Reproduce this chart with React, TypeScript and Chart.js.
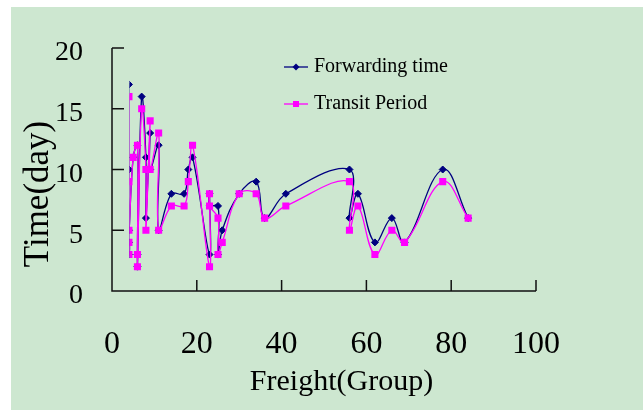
import { useEffect, useRef } from "react";
import { Chart, registerables } from "chart.js";

Chart.register(...registerables);

// Freight group (x) for each observation, in drawing order
const freightGroups = [3, 3, 3, 4, 4, 4, 4, 4, 5, 6, 6, 6, 7, 8, 8, 9, 9, 11, 11, 14, 17, 18, 19, 23, 23, 23, 25, 25, 26, 30, 34, 36, 41, 56, 56, 58, 62, 66, 69, 78, 84];
// Forwarding time (days)
const forwardingTime = [9, 7, 4, 4, 3, 17, 10, 5, 11, 12, 3, 2, 16, 11, 6, 13, 10, 12, 5, 8, 8, 10, 11, 3, 8, 7, 7, 3, 5, 8, 9, 6, 8, 10, 6, 8, 4, 6, 4, 10, 6];
// Transit period (days)
const transitPeriod = [8, 6, 4, 4, 3, 16, 9, 5, 11, 12, 3, 2, 15, 10, 5, 14, 10, 13, 5, 7, 7, 9, 12, 2, 8, 7, 6, 3, 4, 8, 8, 6, 7, 9, 5, 7, 3, 5, 4, 9, 6];

const seriesNames = ["Forwarding time", "Transit Period"];
const xTickValues = [0, 20, 40, 60, 80, 100];
const yTickValues = [0, 5, 10, 15, 20];
const xAxisTitle = "Freight(Group)";
const yAxisTitle = "Time(day)";

const FONT = "'Liberation Serif', 'Times New Roman', serif";
const BG = "#cde7d0";
const NAVY = "#000080";
const MAGENTA = "#ff00ff";

function makeIcon(color: string, style: string) {
  const c = document.createElement("canvas");
  c.width = 24;
  c.height = 12;
  const ctx = c.getContext("2d")!;
  ctx.strokeStyle = color;
  ctx.lineWidth = 1.3;
  ctx.beginPath();
  ctx.moveTo(0, 6);
  ctx.lineTo(24, 6);
  ctx.stroke();
  ctx.fillStyle = color;
  if (style === "diamond") {
    ctx.beginPath();
    ctx.moveTo(12, 2.5);
    ctx.lineTo(15.5, 6);
    ctx.lineTo(12, 9.5);
    ctx.lineTo(8.5, 6);
    ctx.closePath();
    ctx.fill();
  } else {
    ctx.fillRect(9, 3, 6, 6);
  }
  return c;
}

export default function App() {
  const ref = useRef<HTMLCanvasElement | null>(null);

  useEffect(() => {
    if (!ref.current) return;
    const icons = [makeIcon(NAVY, "diamond"), makeIcon(MAGENTA, "square")];

    const fwdPoints = freightGroups.map((x, i) => ({ x, y: forwardingTime[i] }));
    const trPoints = freightGroups.map((x, i) => ({ x, y: transitPeriod[i] }));

    const refPlugin = {
      id: "refPlugin",
      beforeDraw(chart: any) {
        const { ctx, width, height } = chart;
        ctx.save();
        ctx.fillStyle = BG;
        ctx.fillRect(0, 0, width, height);
        ctx.restore();
      },
      afterLayout(chart: any) {
        const ca = chart.chartArea;
        const ys = chart.scales.y;
        const xs = chart.scales.x;
        const dy = 187 - (ca.top + ca.bottom) / 2;
        ys.top += dy;
        ys.bottom += dy;
        const dx = 330.5 - (ca.left + ca.right) / 2;
        xs.left += dx;
        xs.right += dx;
        const lg = chart.legend;
        if (lg) {
          const w = lg.width;
          const h = lg.height;
          lg.left = ca.left + 159;
          lg.top = ca.top - 8;
          lg.right = lg.left + w;
          lg.bottom = lg.top + h;
        }
      },
      beforeDatasetsDraw(chart: any) {
        const { ctx, chartArea: ca } = chart;
        const xs = chart.scales.x;
        const ys = chart.scales.y;
        ctx.save();
        ctx.strokeStyle = "#111";
        ctx.lineWidth = 1.5;
        ctx.beginPath();
        ctx.moveTo(ca.left, ca.top);
        ctx.lineTo(ca.left, ca.bottom);
        ctx.lineTo(ca.right, ca.bottom);
        ctx.stroke();
        ctx.beginPath();
        yTickValues.forEach((v) => {
          if (v === 0) return;
          const p = ys.getPixelForValue(v);
          ctx.moveTo(ca.left, p);
          ctx.lineTo(ca.left + 12, p);
        });
        xTickValues.forEach((v) => {
          if (v === 0) return;
          const p = xs.getPixelForValue(v);
          ctx.moveTo(p, ca.bottom);
          ctx.lineTo(p, ca.bottom - 11);
        });
        ctx.stroke();
        ctx.restore();
      },
    };

    const chart = new Chart(ref.current, {
      type: "scatter",
      data: {
        datasets: [
          {
            label: seriesNames[0],
            data: fwdPoints,
            showLine: true,
            borderColor: NAVY,
            backgroundColor: NAVY,
            borderWidth: 1.3,
            pointStyle: "rectRot",
            pointRadius: 3.5,
            pointBorderWidth: 1,
            pointBorderColor: NAVY,
            pointBackgroundColor: NAVY,
            tension: 0.4,
            order: 2,
          },
          {
            label: seriesNames[1],
            data: trPoints,
            showLine: true,
            borderColor: MAGENTA,
            backgroundColor: MAGENTA,
            borderWidth: 1.3,
            pointStyle: "rect",
            pointRadius: 5,
            pointBorderWidth: 0,
            pointBackgroundColor: MAGENTA,
            tension: 0.4,
            order: 1,
          },
        ],
      },
      options: {
        animation: false,
        responsive: false,
        events: [],
        layout: { padding: { left: 0, top: 41, right: 107, bottom: 0 } },
        plugins: {
          tooltip: { enabled: false },
          legend: {
            display: true,
            position: "chartArea",
            align: "start",
            labels: {
              font: { family: FONT, size: 20 },
              color: "#000",
              usePointStyle: true,
              pointStyleWidth: 16,
              padding: 17,
              generateLabels: (ch: any) =>
                ch.data.datasets.map((ds: any, i: number) => ({
                  text: ds.label,
                  pointStyle: icons[i],
                  fillStyle: ds.backgroundColor,
                  strokeStyle: ds.borderColor,
                  lineWidth: 0,
                  hidden: false,
                  datasetIndex: i,
                  fontColor: "#000",
                })),
            },
          },
        },
        scales: {
          x: {
            type: "linear",
            min: 0,
            max: 100,
            afterFit: (s: any) => {
              s.height = 119;
            },
            afterBuildTicks: (s: any) => {
              s.ticks = xTickValues.map((v) => ({ value: v }));
            },
            grid: { display: false, drawTicks: false },
            border: { display: false },
            ticks: {
              font: { family: FONT, size: 32 },
              color: "#000",
              padding: 34,
              autoSkip: false,
              maxRotation: 0,
            },
            title: {
              display: true,
              text: xAxisTitle,
              font: { family: FONT, size: 30 },
              color: "#000",
              padding: { top: 0, bottom: 10 },
            },
          },
          y: {
            type: "linear",
            min: 0,
            max: 20,
            afterFit: (s: any) => {
              s.width = 101;
            },
            afterBuildTicks: (s: any) => {
              s.ticks = yTickValues.map((v) => ({ value: v }));
            },
            grid: { display: false, drawTicks: false },
            border: { display: false },
            ticks: {
              font: { family: FONT, size: 28, lineHeight: 0.8 },
              color: "#000",
              padding: 29,
              labelOffset: 5,
              autoSkip: false,
            },
            title: {
              display: true,
              text: yAxisTitle,
              font: { family: FONT, size: 35 },
              color: "#000",
              padding: { top: 7, bottom: 0 },
            },
          },
        },
      },
      plugins: [refPlugin],
    } as any);

    return () => chart.destroy();
  }, []);

  return (
    <div
      style={{
        position: "absolute",
        left: 11,
        top: 7,
        width: 632,
        height: 403,
        background: BG,
      }}
    >
      <canvas ref={ref} width={632} height={403} style={{ display: "block" }} />
    </div>
  );
}
